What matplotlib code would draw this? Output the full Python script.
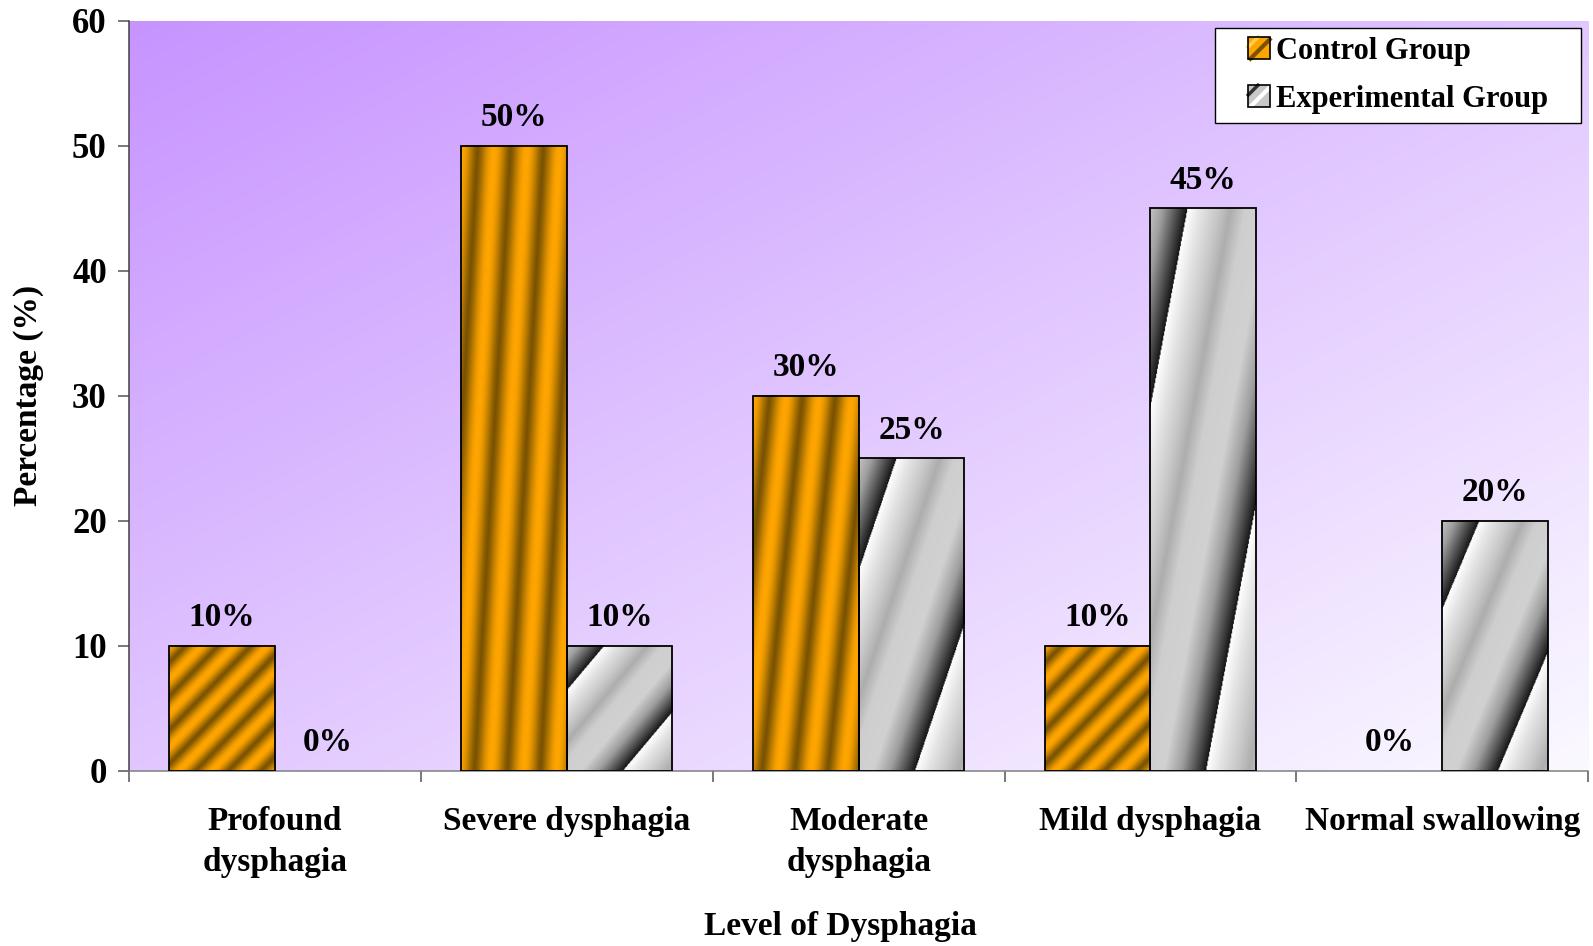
import numpy as np
import matplotlib.pyplot as plt
from matplotlib.colors import LinearSegmentedColormap
from matplotlib.patches import Patch, Rectangle
from matplotlib.lines import Line2D
from matplotlib.legend_handler import HandlerBase

# Données
categories = ['Profound\ndysphagia', 'Severe dysphagia', 'Moderate\ndysphagia',
              'Mild dysphagia', 'Normal swallowing']
control = [10, 50, 30, 10, 0]
experimental = [0, 10, 25, 45, 20]
series_names = ['Control Group', 'Experimental Group']
yticks = [0, 10, 20, 30, 40, 50, 60]

plt.rcParams['font.family'] = ['Liberation Serif', 'DejaVu Serif']
plt.rcParams['font.weight'] = 'bold'
plt.rcParams['font.size'] = 24

orange_cmap = LinearSegmentedColormap.from_list('orange', ['#7a5300', '#ffa500'])
fond_cmap = LinearSegmentedColormap.from_list('fond', ['#c794ff', '#fbf9ff'])

# dégradé "chrome" des barres grises (position dans la période -> niveau de gris)
gris_pos = [0.0, 0.10, 0.25, 0.35, 0.47, 0.66, 0.80, 0.92, 1.0]
gris_val = [1.0, 0.90, 0.78, 0.68, 0.81, 0.82, 0.62, 0.30, 0.08]


def remplir_barre(ax, barre, style):
    x0, y0 = barre.get_x(), barre.get_y()
    w, h = barre.get_width(), barre.get_height()
    if h <= 0:
        barre.set_visible(False)
        return
    ny = max(80, int(h * 20))
    nx = 120
    u = np.linspace(0, 1, nx)[None, :]
    vd = np.linspace(0, 1, ny)[:, None]
    if style == 'orange':
        b = max(1.1, 37.0 / h)
        phase = 3.2 * u + b * vd
        val = (0.5 + 0.5 * np.cos(2 * np.pi * phase)) ** 0.7
        img = orange_cmap(val)
    else:
        phase = (0.85 * u + 0.85 * vd + 0.70) % 1.0
        g = np.interp(phase, gris_pos, gris_val)
        img = np.dstack([g, g, g])
    ax.imshow(img, extent=(x0, x0 + w, y0, y0 + h), origin='upper',
              aspect='auto', zorder=2, interpolation='bilinear')


class CarreRaye(HandlerBase):
    def __init__(self, fond, raie, coin):
        super().__init__()
        self.fond, self.raie, self.coin = fond, raie, coin

    def create_artists(self, legend, orig_handle, xdescent, ydescent,
                       width, height, fontsize, trans):
        s = height
        x0 = -xdescent + width - s
        y0 = -ydescent
        arts = [Rectangle((x0, y0), s, s, facecolor=self.fond, edgecolor='none', transform=trans)]
        arts.append(Line2D([x0, x0 + 0.45 * s], [y0 + 0.55 * s, y0 + s], color=self.coin, lw=2.5, transform=trans))
        arts.append(Line2D([x0 + 0.1 * s, x0 + s], [y0, y0 + 0.9 * s], color=self.raie, lw=3, transform=trans))
        arts.append(Rectangle((x0, y0), s, s, fill=False, edgecolor='black', lw=1.2, transform=trans))
        return arts


fig = plt.figure(figsize=(15.93, 9.46), dpi=100)
ax = fig.add_axes([0.081, 0.185, 0.916, 0.793])

# fond en dégradé violet -> blanc
uu = np.linspace(0, 1, 300)[None, :]
vv = np.linspace(0, 1, 300)[:, None]
ax.imshow((uu + vv) / 2, cmap=fond_cmap, extent=(0, 1, 0, 1), transform=ax.transAxes,
          origin='upper', aspect='auto', zorder=0, interpolation='bilinear')

x = np.arange(len(categories))
largeur = 0.362
barres1 = ax.bar(x - largeur / 2, control, largeur, facecolor='none',
                 edgecolor='black', linewidth=1.3, zorder=3)
barres2 = ax.bar(x + largeur / 2, experimental, largeur, facecolor='none',
                 edgecolor='black', linewidth=1.3, zorder=3)
for b in barres1:
    remplir_barre(ax, b, 'orange')
for b in barres2:
    remplir_barre(ax, b, 'gris')

for xs, vals in [(x - largeur / 2, control), (x + largeur / 2, experimental)]:
    for xi, v in zip(xs, vals):
        ax.annotate(f'{v}%', (xi, v), xytext=(0, 9), textcoords='offset points',
                    ha='center', va='bottom', zorder=4, fontsize=24)

ax.set_xlim(-0.5, 4.5)
ax.set_ylim(0, 60)
ax.set_yticks(yticks)
ax.set_yticklabels([str(t) for t in yticks], fontsize=25)

ax.set_xticks(np.arange(-0.5, 5, 1))
ax.set_xticklabels([])
ax.set_xticks(x, minor=True)
ax.set_xticklabels(categories, minor=True, linespacing=1.42)
ax.tick_params(axis='x', which='major', length=8, width=1.1, color='#555555', direction='out')
ax.tick_params(axis='x', which='minor', length=0, pad=25)
ax.tick_params(axis='y', length=8, width=1.1, color='#555555', direction='out', pad=8)

for cote in ['top', 'right']:
    ax.spines[cote].set_visible(False)
ax.spines['left'].set_color('#404040')
ax.spines['bottom'].set_color('#808080')
ax.spines['left'].set_linewidth(1.1)
ax.spines['bottom'].set_linewidth(1.1)

ax.set_ylabel('Percentage (%)', fontweight='bold', labelpad=20)
ax.set_xlabel('Level of Dysphagia', fontweight='bold', labelpad=24)
ax.xaxis.label.set_x(0.4875)

p1, p2 = Patch(), Patch()
leg = ax.legend([p1, p2], series_names,
                handler_map={p1: CarreRaye('#ffa500', '#7a5200', '#ffcc55'),
                             p2: CarreRaye('#c8c8c8', '#ffffff', '#303030')},
                loc='upper left', bbox_to_anchor=(0.744, 0.869, 0.251, 0.122), mode='expand',
                borderaxespad=0, borderpad=0.3, handlelength=1.5, handleheight=0.7,
                handletextpad=0.2, labelspacing=0.62, fancybox=False, framealpha=1,
                facecolor='white', edgecolor='black', fontsize=22)
leg.get_frame().set_linewidth(1.0)
leg.set_zorder(5)

fig.savefig('out.png', dpi=100)
